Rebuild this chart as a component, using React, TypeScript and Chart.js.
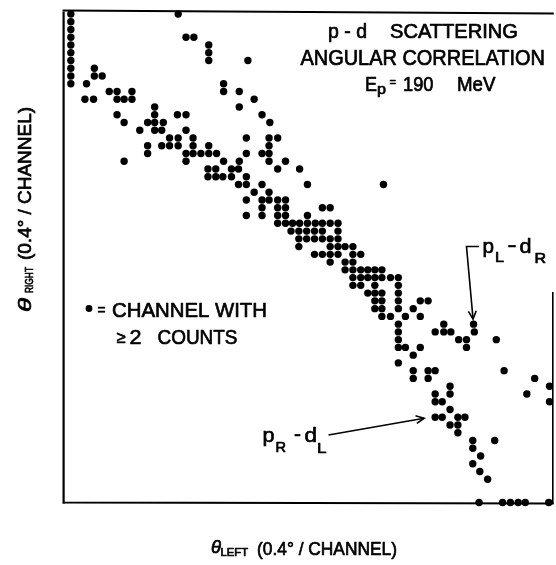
import React, { useEffect, useRef } from "react";
import { Chart, registerables } from "chart.js";

Chart.register(...registerables);

// θ_RIGHT channel of each row (0.4° / channel)
const thetaRightRows: number[] = [
  63, 62, 61, 60, 59, 58, 57, 56, 55, 54, 53, 52, 51, 50, 49, 48, 47, 46, 45, 44,
  43, 42, 41, 40, 39, 38, 37, 36, 35, 34, 33, 32, 31, 30, 29, 28, 27, 26, 25, 24,
  23, 22, 21, 20, 19, 18, 17, 16, 15, 14, 13, 12, 11, 10, 9, 8, 7, 6, 5, 4, 3, 0,
];

// θ_LEFT channels with ≥2 counts for each θ_RIGHT row above
const thetaLeftRows: number[][] = [
  [1.0, 14.7],
  [1.0],
  [1.0],
  [1.0, 15.7, 16.7],
  [1.0, 18.6],
  [1.0, 18.6],
  [1.0, 18.6, 23.6],
  [1.0, 4.0],
  [1.0, 4.0, 5.0],
  [1.0, 3.0, 20.5],
  [5.9, 6.9, 8.8, 20.5, 22.5],
  [2.8, 3.9, 6.9, 7.8, 8.8, 24.4],
  [11.7, 22.5],
  [6.9, 11.7, 14.6, 15.7, 25.4],
  [7.8, 10.8, 11.7, 12.8, 26.4],
  [9.8, 11.7, 12.6, 15.7],
  [13.6, 14.7, 16.6, 23.4, 26.3, 27.4],
  [10.8, 12.6, 13.6, 14.7, 16.6, 18.6, 26.3],
  [10.8, 15.7, 16.6, 17.6, 18.6, 19.6, 23.4, 25.4, 26.3],
  [7.8, 15.7, 20.5, 22.5, 26.3, 28.4],
  [18.5, 19.5, 21.5, 22.4, 27.4, 30.2],
  [18.5, 19.5, 20.4, 21.5, 23.4],
  [22.4, 23.4, 25.4, 31.2, 40.9],
  [24.4, 26.3],
  [23.4, 25.4, 26.3, 27.4, 28.4],
  [25.4, 27.4, 28.4, 33.1, 34.1],
  [23.4, 25.4, 27.4, 28.4, 31.2],
  [27.4, 28.4, 29.3, 30.2, 31.2, 32.2, 33.1, 34.1, 35.1],
  [29.1, 30.1, 31.1, 32.1, 33.1, 35.1],
  [30.1, 31.1, 32.1, 33.1, 34.1, 35.1],
  [30.1, 34.1, 35.1, 36.0, 37.0],
  [32.1, 33.1, 34.1, 35.1, 37.0, 38.0],
  [34.1, 36.0, 37.0],
  [36.0, 37.0, 38.0, 38.9, 39.8, 40.7],
  [37.0, 38.0, 38.9, 39.8, 40.7, 41.8, 42.8],
  [37.0, 38.0, 39.8, 42.8],
  [38.9, 39.8, 40.7, 42.8],
  [39.8, 40.7, 42.8, 45.6, 46.6],
  [39.8, 40.7, 42.8, 44.7],
  [40.7, 41.8, 43.7, 45.6],
  [42.8, 48.6, 52.4],
  [42.8, 47.5, 48.6, 49.5, 52.5],
  [42.8, 50.5, 51.5, 55.3],
  [42.8, 43.7, 45.6, 51.5],
  [44.7],
  [42.8],
  [44.7, 46.6, 47.5, 56.3],
  [44.7, 46.6, 60.2],
  [49.4, 62.1],
  [47.5, 49.4, 59.2],
  [47.5, 48.4, 62.1],
  [49.4],
  [47.5, 48.4, 50.4, 51.3],
  [49.4, 50.4],
  [50.4],
  [52.3, 55.1],
  [52.3],
  [53.3],
  [52.3],
  [53.2],
  [54.2],
  [53.1, 56.1, 57.1, 58.1, 59.0, 62.0],
];

// axis ranges (channels)
const xRange: [number, number] = [0, 62.45];
const yRange: [number, number] = [0, 63.25];

// labelled peaks: [θ_LEFT, θ_RIGHT] of the channel the arrow points at
const peakPLdR: [number, number] = [52.4, 23];
const peakPRdL: [number, number] = [47.5, 11];

const FONT = '"Liberation Sans", Arial, Helvetica, sans-serif';

function fitText(
  ctx: CanvasRenderingContext2D,
  text: string,
  x: number,
  y: number,
  size: number,
  w: number,
  style = ""
) {
  ctx.save();
  ctx.font = `${style} ${size}px ${FONT}`.trim();
  ctx.textAlign = "left";
  ctx.textBaseline = "alphabetic";
  const m = ctx.measureText(text).width || 1;
  ctx.translate(x, y);
  ctx.scale(w / m, 1);
  ctx.fillText(text, 0, 0);
  ctx.lineWidth = 0.7;
  ctx.lineJoin = "round";
  ctx.strokeText(text, 0, 0);
  ctx.restore();
}

function arrowHead(
  ctx: CanvasRenderingContext2D,
  fx: number,
  fy: number,
  tx: number,
  ty: number,
  len = 8,
  spread = 0.42
) {
  const a = Math.atan2(ty - fy, tx - fx);
  ctx.beginPath();
  ctx.moveTo(tx - len * Math.cos(a - spread), ty - len * Math.sin(a - spread));
  ctx.lineTo(tx, ty);
  ctx.lineTo(tx - len * Math.cos(a + spread), ty - len * Math.sin(a + spread));
  ctx.stroke();
}

const decor = {
  id: "decor",
  afterDraw(chart: any) {
    const { ctx, chartArea: ca, scales } = chart;
    const sx = scales.x;
    const sy = scales.y;
    ctx.save();
    ctx.strokeStyle = "#000";
    ctx.fillStyle = "#000";
    ctx.lineCap = "butt";

    // frame
    ctx.lineWidth = 2.2;
    ctx.beginPath();
    ctx.moveTo(ca.left + 0.6, ca.top - 1.5);
    ctx.lineTo(ca.left + 0.6, ca.bottom + 1.5);
    ctx.moveTo(ca.left - 0.5, ca.bottom);
    ctx.lineTo(ca.right + 1.5, ca.bottom + 1);
    ctx.moveTo(ca.left - 0.5, ca.top - 1.5);
    ctx.lineTo(ca.right + 1.5, ca.top + 1.5);
    ctx.stroke();
    ctx.lineWidth = 1.6;
    ctx.beginPath();
    ctx.moveTo(ca.right + 0.5, 292);
    ctx.lineTo(ca.right + 0.5, ca.bottom + 1);
    ctx.stroke();

    // title block
    fitText(ctx, "p - d", 328, 37.7, 20, 39);
    fitText(ctx, "SCATTERING", 390, 37.7, 20, 128);
    fitText(ctx, "ANGULAR CORRELATION", 300.5, 65, 21.5, 244.5);
    fitText(ctx, "E", 365, 90.5, 21, 12);
    fitText(ctx, "p", 377, 94, 15, 9);
    fitText(ctx, "=", 389.5, 86, 13, 6.5);
    fitText(ctx, "190", 403, 90.5, 21, 30.5);
    fitText(ctx, "MeV", 457, 90.5, 21, 38.5);

    // legend
    ctx.beginPath();
    ctx.arc(89, 308.5, 3.4, 0, Math.PI * 2);
    ctx.fill();
    fitText(ctx, "=", 97.5, 315, 15, 8);
    fitText(ctx, "CHANNEL WITH", 112, 317, 21, 155);
    fitText(ctx, "≥", 116.5, 343, 17, 9);
    fitText(ctx, "2", 129.5, 343.5, 21, 12);
    fitText(ctx, "COUNTS", 157.5, 343.5, 21, 80);

    // p_L - d_R label and bracket arrow
    fitText(ctx, "p", 482.5, 253, 21, 11.5);
    fitText(ctx, "L", 495, 262, 14, 9);
    fitText(ctx, "-", 507.5, 252, 20, 9);
    fitText(ctx, "d", 519.5, 253, 21, 12);
    fitText(ctx, "R", 534.5, 263, 14, 11.5);
    const t1x = sx.getPixelForValue(peakPLdR[0]) - 0.5;
    const t1y = sy.getPixelForValue(peakPLdR[1]) - 5;
    ctx.lineWidth = 1.6;
    ctx.beginPath();
    ctx.moveTo(479, 246.5);
    ctx.lineTo(466.5, 246.5);
    ctx.lineTo(t1x, t1y);
    ctx.stroke();
    arrowHead(ctx, 466.5, 246.5, t1x, t1y, 9, 0.45);

    // p_R - d_L label and arrow
    fitText(ctx, "p", 262.5, 442, 21, 12);
    fitText(ctx, "R", 275.5, 452, 14, 10.5);
    fitText(ctx, "-", 294, 441, 20, 7);
    fitText(ctx, "d", 304.5, 442, 21, 12.5);
    fitText(ctx, "L", 317, 453, 14, 9.5);
    const t2x = sx.getPixelForValue(peakPRdL[0]) - 11;
    const t2y = sy.getPixelForValue(peakPRdL[1]) + 1;
    ctx.lineWidth = 1.6;
    ctx.beginPath();
    ctx.moveTo(328.5, 435);
    ctx.lineTo(t2x, t2y);
    ctx.stroke();
    arrowHead(ctx, 328.5, 435, t2x, t2y, 9, 0.45);

    // x-axis title
    fitText(ctx, "θ", 211, 553, 18, 10, "italic");
    fitText(ctx, "LEFT", 220.5, 556, 11, 27.5);
    fitText(ctx, "(0.4° / CHANNEL)", 257, 555, 18, 140);

    // y-axis title (rotated)
    ctx.save();
    ctx.translate(31, 312);
    ctx.rotate(-Math.PI / 2);
    fitText(ctx, "θ", 0, 0, 19, 14, "italic");
    fitText(ctx, "RIGHT", 19, 1.5, 11, 26);
    fitText(ctx, "(0.4° / CHANNEL)", 52, 0, 19, 153);
    ctx.restore();

    ctx.restore();
  },
};

export default function App() {
  const canvasRef = useRef<HTMLCanvasElement | null>(null);

  useEffect(() => {
    const canvas = canvasRef.current;
    if (!canvas) return;
    const points: { x: number; y: number }[] = [];
    thetaRightRows.forEach((yv, i) => {
      (thetaLeftRows[i] || []).forEach((xv) => points.push({ x: xv, y: yv }));
    });
    const chart = new Chart(canvas, {
      type: "scatter",
      data: {
        datasets: [
          {
            data: points,
            backgroundColor: "#000",
            borderColor: "#000",
            borderWidth: 0,
            pointRadius: 3.7,
            pointHoverRadius: 3.7,
            pointStyle: "circle",
            clip: false as any,
          },
        ],
      },
      options: {
        animation: false,
        responsive: false,
        devicePixelRatio: 1,
        events: [],
        layout: { padding: { left: 63, right: 1.5, top: 12, bottom: 62.5 } },
        plugins: {
          legend: { display: false },
          tooltip: { enabled: false },
          title: { display: false },
        },
        scales: {
          x: { type: "linear", min: xRange[0], max: xRange[1], display: false },
          y: { type: "linear", min: yRange[0], max: yRange[1], display: false },
        },
      },
      plugins: [decor],
    });
    return () => chart.destroy();
  }, []);

  return (
    <div style={{ position: "fixed", left: 0, top: 0, width: 556, height: 565, background: "#fff" }}>
      <canvas ref={canvasRef} width={556} height={565} style={{ width: 556, height: 565, display: "block" }} />
    </div>
  );
}
